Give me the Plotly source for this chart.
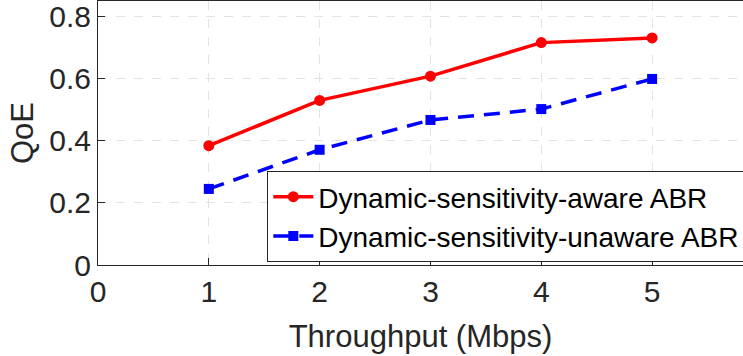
import plotly.graph_objects as go

# Throughput levels (Mbps) and QoE of the two ABR variants
throughput = [1, 2, 3, 4, 5]
qoe_aware = [0.384, 0.530, 0.608, 0.716, 0.731]
qoe_unaware = [0.245, 0.371, 0.467, 0.502, 0.599]
x_ticks = [0, 1, 2, 3, 4, 5]
y_ticks = [0, 0.2, 0.4, 0.6, 0.8]
y_tick_text = ["0", "0.2", "0.4", "0.6", "0.8"]

FONT = "Liberation Sans, Arial, Helvetica, sans-serif"
TEXT = "#262626"

fig = go.Figure()
fig.add_trace(go.Scatter(
    x=throughput, y=qoe_aware, mode="lines+markers",
    name="Dynamic-sensitivity-aware ABR",
    line=dict(color="#ff0000", width=3.5),
    marker=dict(symbol="circle", size=11, color="#ff0000"),
))
fig.add_trace(go.Scatter(
    x=throughput, y=qoe_unaware, mode="lines+markers",
    name="Dynamic-sensitivity-unaware ABR",
    line=dict(color="#0000ff", width=3.5, dash="16px,10px"),
    marker=dict(symbol="square", size=10, color="#0000ff"),
))

axis_common = dict(
    showline=True, linecolor=TEXT, linewidth=1, mirror=True,
    ticks="inside", ticklen=7, tickcolor=TEXT,
    showgrid=True, gridcolor="#e3e3e3", griddash="dash", gridwidth=1,
    zeroline=False,
    tickfont=dict(family=FONT, size=30, color=TEXT),
)

fig.update_layout(
    width=743, height=356,
    margin=dict(l=98, r=0, t=1, b=91, autoexpand=False),
    paper_bgcolor="white", plot_bgcolor="white",
    font=dict(family=FONT, color=TEXT),
    xaxis=dict(
        range=[0, 5.82], tickvals=x_ticks,
        title=dict(text="Throughput (Mbps)", font=dict(family=FONT, size=31, color=TEXT), standoff=18),
        **axis_common,
    ),
    yaxis=dict(
        range=[0, 0.85], tickvals=y_ticks, ticktext=y_tick_text,
        title=dict(text="QoE", font=dict(family=FONT, size=31, color=TEXT), standoff=6),
        **axis_common,
    ),
    legend=dict(
        x=0.2625, y=0.356, xanchor="left", yanchor="top",
        bgcolor="white", bordercolor=TEXT, borderwidth=1,
        font=dict(family=FONT, size=28, color="black"),
        tracegroupgap=0, itemwidth=40,
    ),
    showlegend=True,
)

fig.write_html("out.html")
